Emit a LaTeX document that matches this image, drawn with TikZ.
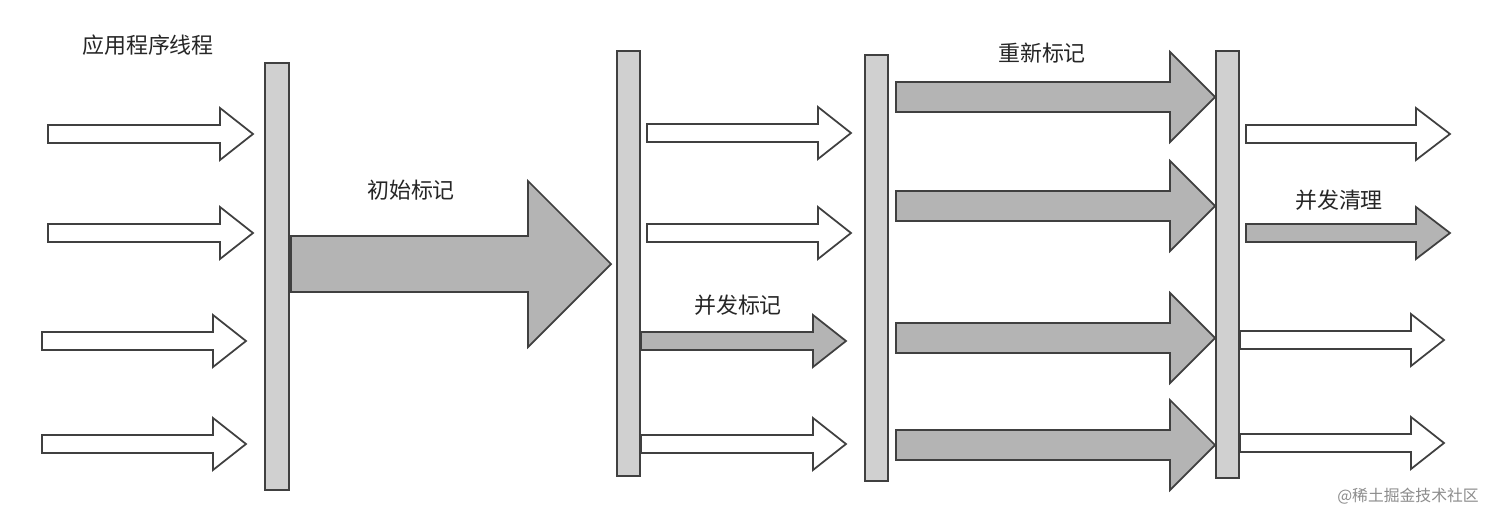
\documentclass[tikz,border=0pt]{standalone}
\usepackage{fontspec}
\newfontfamily\cjk{Noto Sans CJK SC}
\definecolor{barfill}{HTML}{D0D0D0}
\definecolor{arrfill}{HTML}{B4B4B4}
\definecolor{edge}{HTML}{404040}
\tikzset{
 barbox/.style={draw=edge,fill=barfill,line width=1pt},
 wharrow/.style={draw=edge,fill=white,line width=1pt,line join=miter},
 gyarrow/.style={draw=edge,fill=arrfill,line width=1pt,line join=miter},
 lbl/.style={font=\cjk\fontsize{12.5}{14}\selectfont,text=black!85}
}
% #1 style, #2 x0, #3 xh, #4 xt, #5 yc, #6 shaft half, #7 head half
\newcommand\blockarrow[7]{\path[#1] (#2,#5-#6) -- (#3,#5-#6) -- (#3,#5-#7) -- (#4,#5) -- (#3,#5+#7) -- (#3,#5+#6) -- (#2,#5+#6) -- cycle;}
\begin{document}
\begin{tikzpicture}[x=0.02cm,y=-0.02cm]
\path[fill=white] (0,0) rectangle (1512,524);
\useasboundingbox (0,0) rectangle (1512,524);
% bars
\draw[barbox] (265,63) rectangle (289,490);
\draw[barbox] (617,51) rectangle (640,476);
\draw[barbox] (865,55) rectangle (888,481);
\draw[barbox] (1216,51) rectangle (1239,478);
% left threads
\blockarrow{wharrow}{48}{220}{253}{134}{9}{26}
\blockarrow{wharrow}{48}{220}{253}{233}{9}{26}
\blockarrow{wharrow}{42}{213}{246}{341}{9}{26}
\blockarrow{wharrow}{42}{213}{246}{444}{9}{26}
% initial mark
\blockarrow{gyarrow}{291}{528}{611}{264}{28}{83}
% concurrent mark
\blockarrow{wharrow}{647}{818}{851}{133}{9}{26}
\blockarrow{wharrow}{647}{818}{851}{233}{9}{26}
\blockarrow{gyarrow}{641}{813}{846}{341}{9}{26}
\blockarrow{wharrow}{641}{813}{846}{444}{9}{26}
% remark
\blockarrow{gyarrow}{896}{1170}{1215}{97}{15}{45}
\blockarrow{gyarrow}{896}{1170}{1215}{206}{15}{45}
\blockarrow{gyarrow}{896}{1170}{1215}{338}{15}{45}
\blockarrow{gyarrow}{896}{1170}{1215}{445}{15}{45}
% concurrent sweep
\blockarrow{wharrow}{1246}{1416}{1450}{134}{9}{26}
\blockarrow{gyarrow}{1246}{1416}{1450}{233}{9}{26}
\blockarrow{wharrow}{1240}{1411}{1444}{340}{9}{26}
\blockarrow{wharrow}{1240}{1411}{1444}{443}{9}{26}
% labels
\node[lbl] (t1) at (148,45) {应用程序线程};
\node[lbl] (t2) at (411,190) {初始标记};
\node[lbl] (t3) at (738,305) {并发标记};
\node[lbl] (t4) at (1042,53) {重新标记};
\node[lbl] (t5) at (1339,200) {并发清理};
\node[font=\cjk\fontsize{9}{11}\selectfont,text=black!45] (wm) at (1408,496) {@稀土掘金技术社区};
\end{tikzpicture}
\end{document}
